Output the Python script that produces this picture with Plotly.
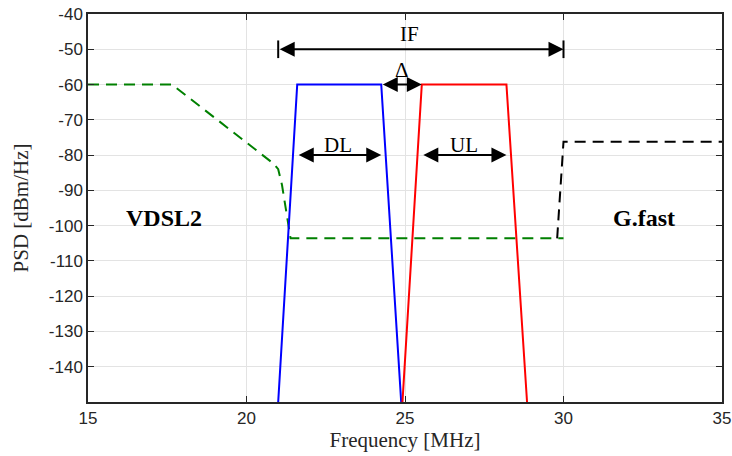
import plotly.graph_objects as go

# ---- data ----
vdsl_f = [15, 17.65, 20.85, 21.0, 21.12, 21.27, 21.39, 30.0]
vdsl_psd = [-60, -60, -82.4, -84.0, -88.5, -96.5, -103.6, -103.6]

gfast_f = [29.8, 30.0, 35.0]
gfast_psd = [-103.6, -76.2, -76.2]

dl_f = [21.0, 21.6, 24.25, 24.88]
dl_psd = [-150, -60, -60, -150]

ul_f = [24.92, 25.53, 28.2, 28.85]
ul_psd = [-150, -60, -60, -150]

# arrows: (x_start, x_end, y)
arrow_names = ["IF", "Δ", "DL", "UL"]
arrow_x0 = [21.0, 24.25, 21.6, 25.53]
arrow_x1 = [30.0, 25.53, 24.25, 28.2]
arrow_y = [-50, -60, -80, -80]
label_x = [25.15, 24.9, 22.9, 26.85]
label_y = [-45.8, -55.8, -77.0, -77.0]

region_labels = ["VDSL2", "G.fast"]
region_x = [17.4, 32.55]
region_y = [-97.8, -97.8]

xticks = [15, 20, 25, 30, 35]
yticks = [-140, -130, -120, -110, -100, -90, -80, -70, -60, -50, -40]

fig = go.Figure()
fig.add_trace(go.Scatter(x=vdsl_f, y=vdsl_psd, mode="lines",
                         line=dict(color="#008000", width=2, dash="11px,7px")))
fig.add_trace(go.Scatter(x=gfast_f, y=gfast_psd, mode="lines",
                         line=dict(color="black", width=2, dash="11px,7px")))
fig.add_trace(go.Scatter(x=dl_f, y=dl_psd, mode="lines",
                         line=dict(color="#0000ff", width=2)))
fig.add_trace(go.Scatter(x=ul_f, y=ul_psd, mode="lines",
                         line=dict(color="#ff0000", width=2)))

serif = "Liberation Serif, DejaVu Serif, serif"
for i, name in enumerate(arrow_names):
    fig.add_annotation(x=arrow_x1[i], y=arrow_y[i], ax=arrow_x0[i], ay=arrow_y[i],
                       xref="x", yref="y", axref="x", ayref="y",
                       text="", showarrow=True, arrowhead=2, startarrowhead=2,
                       arrowside="end+start", arrowsize=1.5, startarrowsize=1.5,
                       arrowwidth=2, arrowcolor="black")
    fig.add_annotation(x=label_x[i], y=label_y[i], text=name, showarrow=False,
                       font=dict(family=serif, size=21, color="black"))

# end bars for IF arrow
for xv in [arrow_x0[0], arrow_x1[0]]:
    fig.add_shape(type="line", x0=xv, x1=xv, y0=arrow_y[0] - 2.5, y1=arrow_y[0] + 2.5,
                  xref="x", yref="y", line=dict(color="black", width=2))

for i, name in enumerate(region_labels):
    fig.add_annotation(x=region_x[i], y=region_y[i], text="<b>%s</b>" % name,
                       showarrow=False, font=dict(family=serif, size=24, color="black"))

axis_common = dict(showline=True, linecolor="#262626", linewidth=1.5, mirror="ticks",
                   ticks="inside", ticklen=6, tickcolor="#262626", automargin=False,
                   ticklabeloverflow="allow",
                   showgrid=True, gridcolor="#e3e3e3", gridwidth=1, zeroline=False,
                   tickfont=dict(family="Liberation Sans, Arial, sans-serif", size=17, color="#262626"))

fig.update_xaxes(range=[15, 35], tickvals=xticks, ticktext=[str(v) for v in xticks],
                 title=dict(text="Frequency [MHz]", font=dict(family=serif, size=21, color="#262626"),
                            standoff=0),
                 **axis_common)
fig.update_yaxes(range=[-150, -40], tickvals=yticks, ticktext=[str(v) for v in yticks],
                 title=dict(text="PSD [dBm/Hz]", font=dict(family=serif, size=21, color="#262626"),
                            standoff=14),
                 **axis_common)

fig.update_layout(width=732, height=456, showlegend=False,
                  plot_bgcolor="white", paper_bgcolor="white",
                  margin=dict(l=88, r=10, t=14, b=54))

# remove the default 8px page margin so the figure fills the window exactly
fig.write_html("out.html", config={"displayModeBar": False},
               post_script="document.body.style.margin='0px';")
